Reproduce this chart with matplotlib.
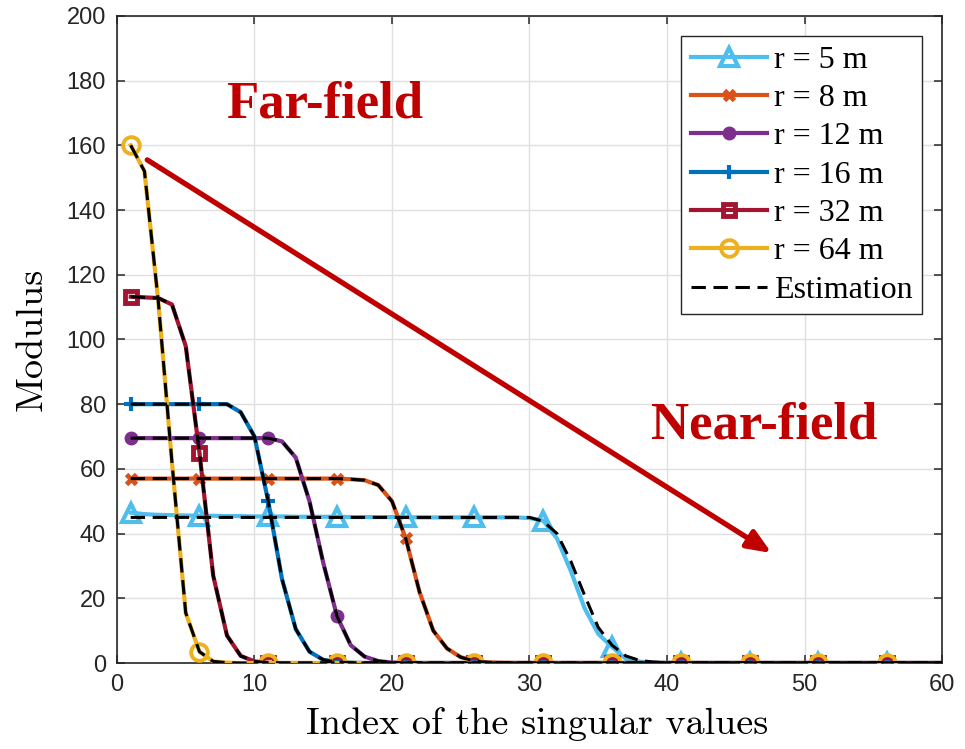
import numpy as np
import matplotlib
matplotlib.use('Agg')
import matplotlib.pyplot as plt

# singular value index (1..60)
idx = np.arange(1, 61)

labels = ['r = 5 m', 'r = 8 m', 'r = 12 m', 'r = 16 m', 'r = 32 m', 'r = 64 m']
colors = ['#4DBEEE', '#D95319', '#7E2F8E', '#0072BD', '#A2142F', '#EDB120']

# measured singular values, one list per distance
sv_5 = [46.5, 46.0, 45.8, 45.7, 45.6, 45.5, 45.5, 45.4, 45.4, 45.3,
        45.3, 45.3, 45.2, 45.2, 45.2, 45.2, 45.1, 45.1, 45.1, 45.1,
        45.1, 45.0, 45.0, 45.0, 45.0, 45.0, 45.0, 45.0, 45.0, 44.8,
        44.0, 38.5, 28.5, 17.0, 9.0, 5.0, 1.3, 0.4, 0.1, 0.05] + [0.0] * 20
sv_8 = [57.0] * 16 + [56.8, 56.5, 55.0, 50.0, 38.5, 22.0, 10.0, 4.5, 1.8, 0.6,
                      0.2, 0.05] + [0.0] * 32
sv_12 = [69.5] * 11 + [68.5, 63.5, 50.0, 31.0, 14.5, 5.5, 2.0, 0.6, 0.15,
                       0.05] + [0.0] * 39
sv_16 = [80.0] * 8 + [77.5, 70.0, 50.0, 26.0, 10.5, 3.5, 1.0, 0.3, 0.08] + [0.0] * 43
sv_32 = [113.2, 113.0, 112.8, 110.8, 98.0, 65.0, 27.0, 8.5, 2.2, 0.5,
         0.1] + [0.0] * 49
sv_64 = [160.0, 152.0, 112.0, 62.0, 15.5, 3.5, 0.5, 0.1] + [0.0] * 52

# estimated singular values
est_5 = [45.0] * 30 + [43.8, 40.0, 31.5, 21.0, 11.0, 5.5, 2.2, 0.8, 0.3,
                       0.1] + [0.0] * 20
est_8 = sv_8
est_12 = sv_12
est_16 = sv_16
est_32 = sv_32
est_64 = sv_64

measured = [sv_5, sv_8, sv_12, sv_16, sv_32, sv_64]
estimated = [est_5, est_8, est_12, est_16, est_32, est_64]

markers = [
    dict(marker='^', ms=13, mfc='none', mew=3),
    dict(marker='x', ms=7, mew=3.5),
    dict(marker='o', ms=9),
    dict(marker='+', ms=10, mew=3),
    dict(marker='s', ms=9, mfc='none', mew=3.5),
    dict(marker='o', ms=12, mfc='none', mew=2.8),
]

fig = plt.figure(figsize=(9.65, 7.49), dpi=100)
ax = fig.add_axes([0.1212, 0.1148, 0.855, 0.864])

for y, c, m, lab in zip(measured, colors, markers, labels):
    ax.plot(idx, y, color=c, lw=3, markevery=(0, 5), label=lab, zorder=3, **m)

for i, y in enumerate(estimated):
    ax.plot(idx, y, color='black', lw=2.2, dashes=(4.7, 2.5),
            label='Estimation' if i == 0 else None, zorder=4)

ax.set_xlim(0, 60)
ax.set_ylim(0, 200)
ax.set_xticks(np.arange(0, 61, 10))
ax.set_yticks(np.arange(0, 201, 20))
ax.grid(True, color='#e0e0e0', lw=1)
ax.set_axisbelow(True)
ax.tick_params(direction='in', length=6, width=1.1, top=True, right=True,
               labelsize=17, colors='#262626', pad=8)
for lbl in ax.get_xticklabels() + ax.get_yticklabels():
    lbl.set_fontfamily('Liberation Sans')
for s in ax.spines.values():
    s.set_color('#262626')
    s.set_linewidth(1.2)

ax.set_xlabel('Index of the singular values', fontfamily='cmr10', fontsize=27.5)
ax.xaxis.set_label_coords(0.5097, -0.068)
ax.set_ylabel('Modulus', fontfamily='cmr10', fontsize=27.5, labelpad=13)

leg = ax.legend(loc='upper right', bbox_to_anchor=(0.9758, 0.969),
                prop={'family': 'Liberation Serif', 'size': 23},
                handlelength=2.4, handletextpad=0.2, labelspacing=0.28,
                borderpad=0.3, borderaxespad=0, fancybox=False,
                edgecolor='#262626', framealpha=1)
leg.get_frame().set_linewidth(1.0)

# direction of decreasing distance
ax.annotate('', xy=(47.6, 34.0), xytext=(2.2, 155.5),
            arrowprops=dict(arrowstyle='-|>,head_length=0.6,head_width=0.25',
                            color='#C00000', lw=3.8, mutation_scale=24,
                            shrinkA=0, shrinkB=0), zorder=5)
ax.text(15.1, 172.5, 'Far-field', color='#C00000', fontsize=38,
        fontweight='bold', fontfamily='Liberation Serif',
        ha='center', va='center')
ax.text(47.1, 73.3, 'Near-field', color='#C00000', fontsize=38,
        fontweight='bold', fontfamily='Liberation Serif',
        ha='center', va='center')

fig.savefig('out.png', dpi=100)
